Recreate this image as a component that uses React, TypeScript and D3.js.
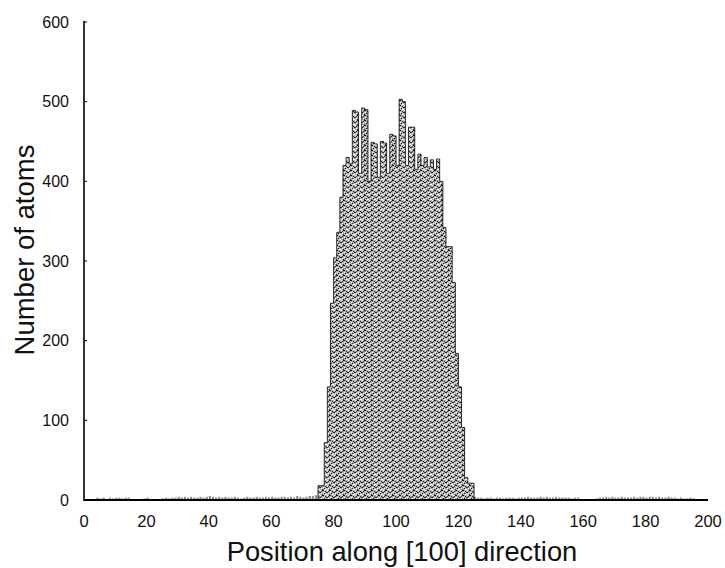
import React from "react";
import * as d3 from "d3";

// Histogram bins (1 unit wide), starting at x = 75
const mainStart = 75;
const mainValues = [
  18, 18, 72, 142, 247, 304, 336, 380, 420, 430,
  422, 489, 487, 410, 492, 490, 400, 449, 447, 405,
  450, 448, 410, 459, 457, 420, 503, 500, 420, 468,
  468, 415, 434, 420, 430, 418, 427, 415, 428, 400,
  342, 318, 318, 273, 184, 142, 91, 28, 21, 21,
];

// Sparse low counts outside the cluster
const leftTailStart = 0;
const leftTail = [
  0, 0, 0, 0, 3, 2, 3, 0, 3, 2, 3, 3, 2, 3, 3, 0, 0, 0, 0, 2,
  3, 0, 0, 0, 0, 2, 3, 2, 3, 3, 4, 3, 4, 3, 4, 3, 3, 4, 3, 4,
  5, 4, 3, 4, 3, 4, 3, 3, 4, 3, 2, 3, 4, 3, 3, 4, 3, 3, 4, 3,
  4, 3, 3, 4, 4, 3, 4, 3, 5, 4, 3, 4, 5, 5, 6,
];
const rightTailStart = 125;
const rightTail = [
  4, 3, 3, 2, 3, 3, 2, 3, 3, 2, 3, 3, 3, 2, 3, 3, 3, 4, 3, 3,
  3, 4, 3, 4, 3, 3, 4, 3, 3, 3, 3, 2, 3, 3, 0, 0, 0, 0, 0, 2,
  3, 3, 4, 3, 4, 3, 3, 4, 3, 3, 3, 4, 3, 4, 4, 3, 4, 4, 3, 4,
  3, 3, 4, 3, 3, 2, 3, 2, 2, 3, 2, 0, 0, 0, 0,
];

const xTicks = [0, 20, 40, 60, 80, 100, 120, 140, 160, 180, 200];
const yTicks = [0, 100, 200, 300, 400, 500, 600];

const W = 725;
const H = 568;

export default function App() {
  const x = d3.scaleLinear().domain([0, 200]).range([84, 708]);
  const y = d3.scaleLinear().domain([0, 600]).range([500, 22]);

  const mainBins = mainValues.map((v, i) => ({ x0: mainStart + i, x1: mainStart + i + 1, v }));
  const tailBins = [
    ...leftTail.map((v, i) => ({ x0: leftTailStart + i, x1: leftTailStart + i + 1, v })),
    ...rightTail.map((v, i) => ({ x0: rightTailStart + i, x1: rightTailStart + i + 1, v })),
  ].filter((b) => b.v > 0);

  // step outline of the main histogram
  let outline = `M${x(mainBins[0].x0)},${y(0)}`;
  mainBins.forEach((b) => {
    outline += `L${x(b.x0)},${y(b.v)}L${x(b.x1)},${y(b.v)}`;
  });
  outline += `L${x(mainBins[mainBins.length - 1].x1)},${y(0)}`;

  const font = "Liberation Sans, Arial, Helvetica, sans-serif";

  return (
    <svg width={W} height={H} style={{ position: "absolute", left: 0, top: 0, background: "#fff" }}>
      <defs>
        <pattern id="speckle" width={7} height={5} patternUnits="userSpaceOnUse">
          <rect width={7} height={5} fill="#b0b0b0" />
          <rect x={0} y={0} width={2} height={1} fill="#111" />
          <rect x={3} y={1} width={1} height={1} fill="#222" />
          <rect x={5} y={0} width={1} height={1} fill="#fff" />
          <rect x={1} y={2} width={1} height={1} fill="#fff" />
          <rect x={4} y={2} width={2} height={1} fill="#222" />
          <rect x={2} y={3} width={1} height={1} fill="#111" />
          <rect x={6} y={3} width={1} height={1} fill="#fff" />
          <rect x={0} y={4} width={1} height={1} fill="#333" />
          <rect x={3} y={4} width={2} height={1} fill="#fff" />
          <rect x={6} y={1} width={1} height={1} fill="#333" />
        </pattern>
      </defs>

      {/* tails */}
      {tailBins.map((b, i) => (
        <rect
          key={"t" + i}
          x={x(b.x0)}
          y={y(b.v)}
          width={x(b.x1) - x(b.x0) - 1}
          height={y(0) - y(b.v)}
          fill="#8a8a8a"
        />
      ))}

      {/* main histogram bars */}
      {mainBins.map((b, i) => (
        <rect
          key={"m" + i}
          x={x(b.x0)}
          y={y(b.v)}
          width={x(b.x1) - x(b.x0) + 0.3}
          height={y(0) - y(b.v)}
          fill="url(#speckle)"
        />
      ))}
      <path d={outline} fill="none" stroke="#1a1a1a" strokeWidth={0.9} />

      {/* axes */}
      <line x1={x(0)} x2={x(0)} y1={y(600) - 1} y2={y(0) + 1} stroke="#000" strokeWidth={1.6} />
      <line x1={x(0)} x2={x(200)} y1={y(0)} y2={y(0)} stroke="#000" strokeWidth={1.8} />
      {yTicks.map((t) => (
        <g key={"yt" + t}>
          <line x1={x(0)} x2={x(0) + 3} y1={y(t)} y2={y(t)} stroke="#000" strokeWidth={1} />
          <text
            x={69}
            y={y(t)}
            dy="0.35em"
            textAnchor="end"
            fontFamily={font}
            fontSize={16}
            fill="#111"
          >
            {t}
          </text>
        </g>
      ))}
      {xTicks.map((t) => (
        <text
          key={"xt" + t}
          x={x(t)}
          y={527}
          textAnchor="middle"
          fontFamily={font}
          fontSize={16.5}
          fill="#111"
        >
          {t}
        </text>
      ))}

      <text
        x={402}
        y={561}
        textAnchor="middle"
        fontFamily={font}
        fontSize={27.3}
        fill="#111"
      >
        Position along [100] direction
      </text>
      <text
        transform={`translate(34,${250}) rotate(-90)`}
        textAnchor="middle"
        fontFamily={font}
        fontSize={27.5}
        fill="#111"
      >
        Number of atoms
      </text>
    </svg>
  );
}
